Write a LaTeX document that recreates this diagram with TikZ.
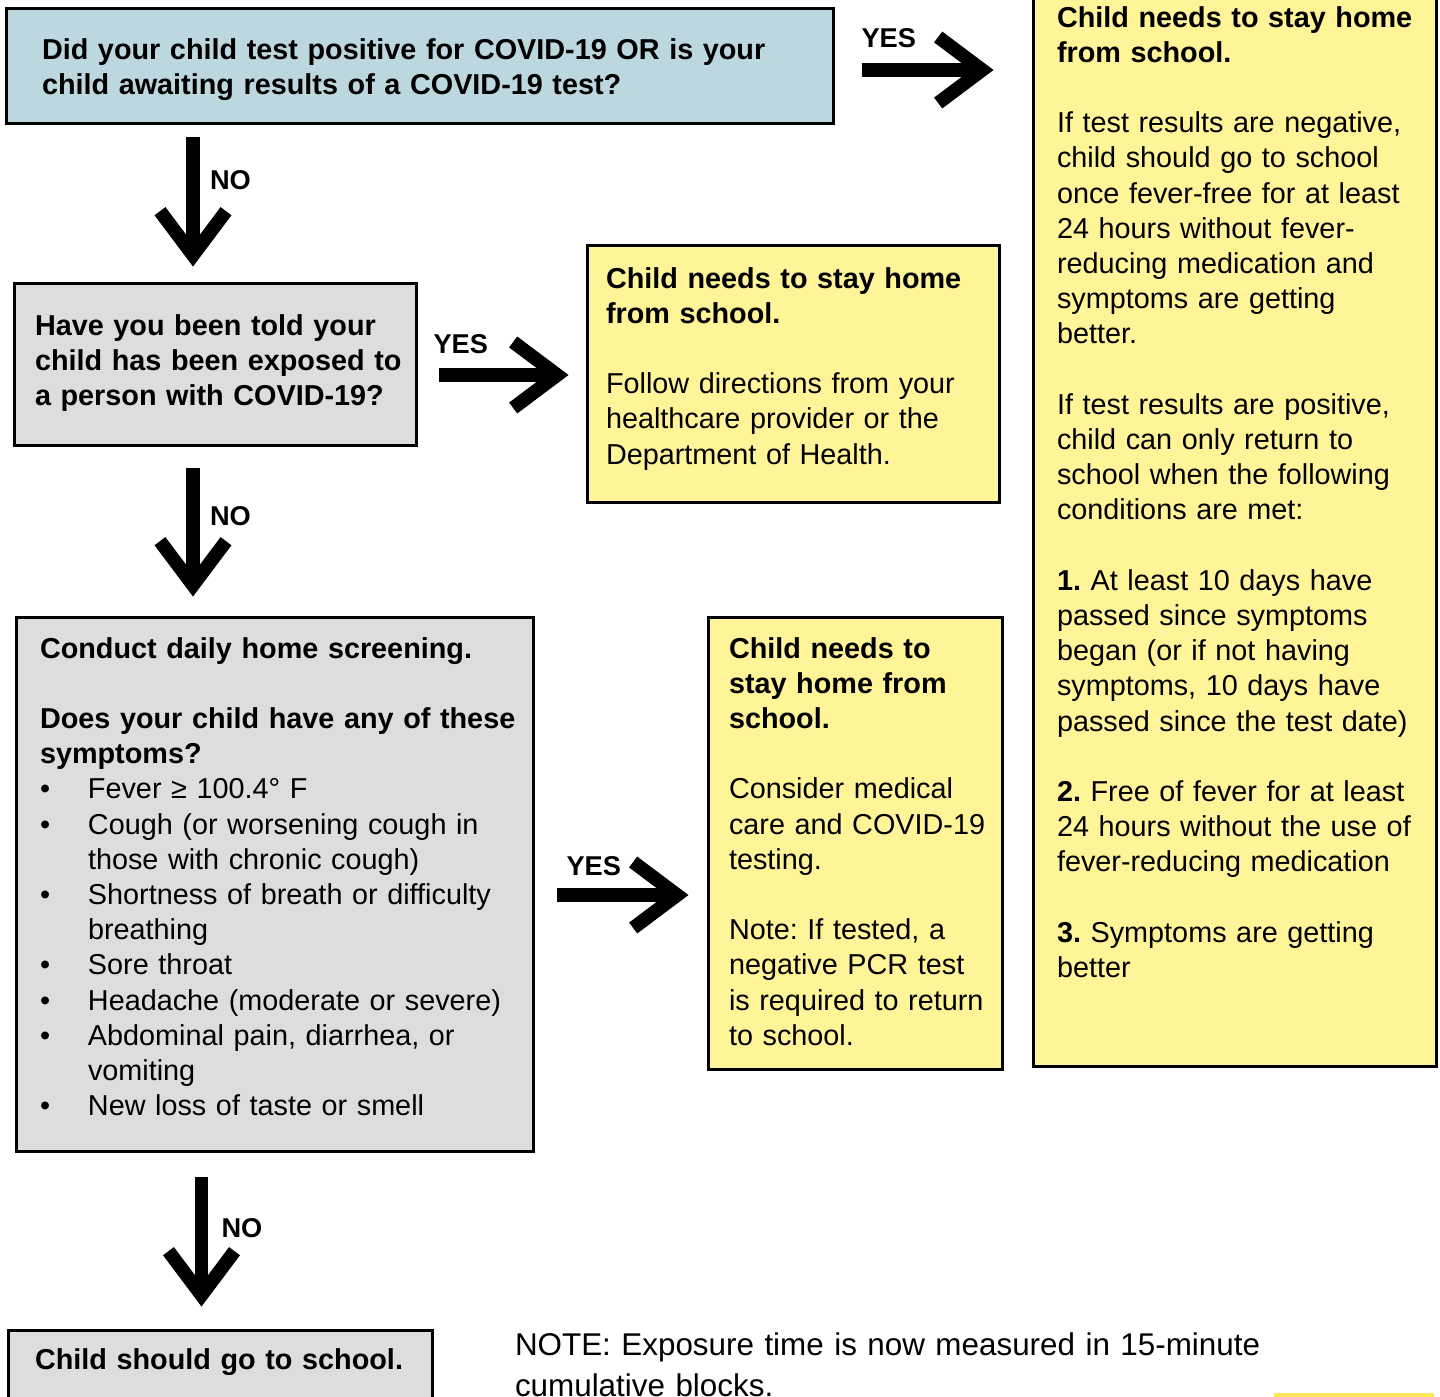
\documentclass[tikz,border=0pt]{standalone}
\usepackage{fontspec}
\setmainfont{Liberation Sans}
\usetikzlibrary{arrows.meta,fit,calc}

\definecolor{askblue}{HTML}{BDD7DF}
\definecolor{askgray}{HTML}{DCDDDE}
\definecolor{stayyellow}{HTML}{FFF598}
\definecolor{stripgold}{HTML}{FFE55A}

\newcommand{\bul}{\makebox[24pt][l]{\textbullet}}
\newcommand{\ind}{\hspace*{24pt}}
\frenchspacing

\begin{document}
\begin{tikzpicture}[
  x=0.5pt,y=-0.5pt,
  ask/.style={draw,line width=1.5pt,fill=askgray,inner sep=0pt},
  stay/.style={draw,line width=1.5pt,fill=stayyellow,inner sep=0pt},
  txt/.style={anchor=base west,inner sep=0pt,outer sep=0pt,align=left,font=\fontsize{14.4pt}{17.6pt}\selectfont},
  lbl/.style={inner sep=0pt,outer sep=0pt,anchor=base west,font=\fontsize{13.6pt}{15pt}\selectfont\bfseries},
  bigarr/.style={line width=6.8pt,line cap=butt,line join=miter,-{Straight Barb[length=22pt,width=33pt]}},
]
  \clip (0,0) rectangle (1440,1397);

  % Boxes
  \node[ask,fill=askblue,fit={(6.5,8.5)(833.5,123.5)}] (q1) {};
  \node[stay,fit={(1033.5,-30)(1436.5,1066.5)}] (big) {};
  \node[ask,fit={(14.5,283.5)(416.5,445.5)}] (q2) {};
  \node[stay,fit={(587.5,245.5)(999.5,502.5)}] (stay1) {};
  \node[ask,fit={(16.5,617.5)(533.5,1151.5)}] (q3) {};
  \node[stay,fit={(708.5,617.5)(1002.5,1069.5)}] (stay3) {};
  \node[ask,fit={(8.5,1330.5)(432.5,1440)}] (go) {};
  \fill[stripgold] (1274,1393) rectangle (1434,1420);

  % Texts
  \node[txt,text width=420pt] (q1txt) at (42,59) {\bfseries Did your child test positive for COVID-19 OR is your\\
    child awaiting results of a COVID-19 test?};
  \node[txt,text width=200pt] (bigtxt) at (1057,27) {{\bfseries Child needs to stay home\\ from school.}\\[17.6pt]
    If test results are negative,\\ child should go to school\\ once fever-free for at least\\ 24 hours without fever-\\
    reducing medication and\\ symptoms are getting\\ better.\\[17.6pt]
    If test results are positive,\\ child can only return to\\ school when the following\\ conditions are met:\\[17.6pt]
    \textbf{1.} At least 10 days have\\ passed since symptoms\\ began (or if not having\\ symptoms, 10 days have\\
    passed since the test date)\\[17.6pt]
    \textbf{2.} Free of fever for at least\\ 24 hours without the use of\\ fever-reducing medication\\[17.6pt]
    \textbf{3.} Symptoms are getting\\ better};
  \node[txt,text width=200pt] (q2txt) at (35,335) {\bfseries Have you been told your\\ child has been exposed to\\ a person with COVID-19?};
  \node[txt,text width=200pt] (stay1txt) at (606,288) {{\bfseries Child needs to stay home\\ from school.}\\[17.6pt]
    Follow directions from your\\ healthcare provider or the\\ Department of Health.};
  \node[txt,text width=260pt] (q3txt) at (40,658) {{\bfseries Conduct daily home screening.}\\[17.6pt]
    {\bfseries Does your child have any of these\\ symptoms?}\\
    \bul Fever ≥ 100.4° F\\
    \bul Cough (or worsening cough in\\ \ind those with chronic cough)\\
    \bul Shortness of breath or difficulty\\ \ind breathing\\
    \bul Sore throat\\
    \bul Headache (moderate or severe)\\
    \bul Abdominal pain, diarrhea, or\\ \ind vomiting\\
    \bul New loss of taste or smell};
  \node[txt,text width=150pt] (stay3txt) at (729,658) {{\bfseries Child needs to\\ stay home from\\ school.}\\[17.6pt]
    Consider medical\\ care and COVID-19\\ testing.\\[17.6pt]
    Note: If tested, a\\ negative PCR test\\ is required to return\\ to school.};
  \node[txt,text width=200pt] (gotxt) at (35,1369) {\bfseries Child should go to school.};
  \node[txt,text width=400pt,font=\fontsize{15.7pt}{20.5pt}\selectfont] (note) at (515,1355)
    {NOTE: Exposure time is now measured in 15-minute\\ cumulative blocks.};

  % Arrows
  \draw[bigarr] ($(q1.east)+(26.5,4)$) -- ($(q1.east -| big.west)+(-38.5,4)$)
    node[lbl,pos=0,shift={(0,-23)}] {YES};
  \draw[bigarr] ($(q1.south -| q2.north)+(-22.5,11.5)$) -- ($(q2.north)+(-22.5,-15.5)$)
    node[lbl,pos=0,shift={(17,53)}] {NO};
  \draw[bigarr] ($(q2.east)+(20.5,10.5)$) -- ($(q2.east -| stay1.west)+(-17.5,10.5)$)
    node[lbl,pos=0,shift={(-5,-22)}] {YES};
  \draw[bigarr] ($(q2.south)+(-22.5,20.5)$) -- ($(q3.north -| q2.south)+(-22.5,-19.5)$)
    node[lbl,pos=0,shift={(17,58)}] {NO};
  \draw[bigarr] ($(q3.east)+(21.5,10.5)$) -- ($(q3.east -| stay3.west)+(-18.5,10.5)$)
    node[lbl,pos=0,shift={(10,-20)}] {YES};
  \draw[bigarr] ($(q3.south -| go.north)+(-19,23.5)$) -- ($(go.north)+(-19,-22.5)$)
    node[lbl,pos=0,shift={(20,61)}] {NO};
\end{tikzpicture}
\end{document}
